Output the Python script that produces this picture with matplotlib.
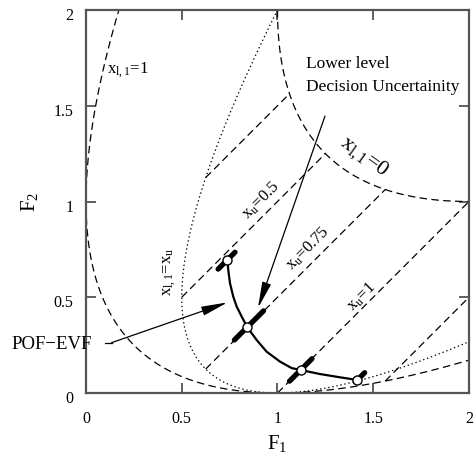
import numpy as np
import matplotlib
matplotlib.use("Agg")
import matplotlib.pyplot as plt
from matplotlib import transforms

plt.rcParams['font.family'] = ['Liberation Serif', 'DejaVu Serif']
plt.rcParams['mathtext.fontset'] = 'custom'
plt.rcParams['mathtext.rm'] = 'Liberation Serif'
plt.rcParams['mathtext.it'] = 'Liberation Serif'
plt.rcParams['mathtext.default'] = 'regular'

# ---------------- data ----------------
# upper level variable values of the constant-x_u lines
XU_LINES = [0.25, 0.5, 0.75, 1.0, 1.25]
# range of x_u for the boundary curves
XU_RANGE_L1 = (-0.42, 1.42)     # x_{l,1}=1 curve
XU_RANGE_L0 = (0.0, 1.0)        # x_{l,1}=0 curve
XU_RANGE_LU = (0.0, 1.40)       # x_{l,1}=x_u curve

# POF-EVF curve
EVF_F1 = [0.738, 0.743, 0.752, 0.769, 0.787, 0.813, 0.842, 0.891, 0.943,
          1.013, 1.074, 1.121, 1.222, 1.326, 1.417]
EVF_F2 = [0.695, 0.642, 0.573, 0.503, 0.451, 0.399, 0.344, 0.277, 0.216,
          0.164, 0.130, 0.120, 0.099, 0.082, 0.068]

# selected EVF points and their decision-uncertainty bars
PTS_F1 = [0.738, 0.842, 1.121, 1.417]
PTS_F2 = [0.695, 0.344, 0.120, 0.068]
BAR_F1_LO = [0.690, 0.775, 1.063, 1.408]
BAR_F1_HI = [0.778, 0.927, 1.180, 1.455]

X_TICKS = [0, 0.5, 1, 1.5, 2]
Y_TICKS = [0, 0.5, 1, 1.5, 2]
X_TICKLABELS = ['0', '0.5', '1', '1.5', '2']
Y_TICKLABELS = ['0', '0.5', '1', '1.5', '2']


def objectives(xu, h):
    return xu ** 2 + h, (1 - xu) ** 2 + h


fig = plt.figure(figsize=(4.77, 4.57), dpi=100)
ax = fig.add_axes([86 / 477, 1 - 393 / 457, (469 - 86) / 477, (393 - 10) / 457])

DASH = (0, (6, 3.5))
DOT = (0, (1.1, 2.2))

# x_{l,1}=1 curve (h=0)
xu = np.linspace(*XU_RANGE_L1, 300)
f1, f2 = objectives(xu, 0.0)
ax.plot(f1, f2, color='black', lw=0.9, linestyle=DASH)

# x_{l,1}=0 curve (h=1)
xu = np.linspace(*XU_RANGE_L0, 300)
f1, f2 = objectives(xu, 1.0)
ax.plot(f1, f2, color='black', lw=0.9, linestyle=DASH)

# x_{l,1}=x_u curve
xu = np.linspace(*XU_RANGE_LU, 300)
f1, f2 = objectives(xu, (1 - xu) ** 2)
ax.plot(f1, f2, color='black', lw=0.9, linestyle=DOT)

# constant x_u lines from x_{l,1}=x_u (or h=0) to x_{l,1}=0
for v in XU_LINES:
    h_start = (1 - v) ** 2 if v <= 1 else 0.0
    a1, a2 = objectives(v, h_start)
    b1, b2 = objectives(v, 1.0)
    ax.plot([a1, b1], [a2, b2], color='black', lw=0.9, linestyle=DASH)

# POF-EVF
ax.plot(EVF_F1, EVF_F2, color='black', lw=1.6, zorder=4)

# uncertainty bars
for p1, p2, lo, hi in zip(PTS_F1, PTS_F2, BAR_F1_LO, BAR_F1_HI):
    d = p2 - p1
    ax.plot([lo, hi], [lo + d, hi + d], color='black', lw=3.8,
            solid_capstyle='round', zorder=5)

ax.plot(PTS_F1, PTS_F2, linestyle='none', marker='o', markersize=6.5,
        markerfacecolor='white', markeredgecolor='black', markeredgewidth=1.0,
        zorder=6)

# arrows
arrow_kw = dict(arrowstyle='-|>,head_length=1.6,head_width=0.28',
                color='black', lw=0.9, shrinkA=0, shrinkB=0)
ax.annotate('', xy=(0.898, 0.444), xytext=(1.248, 1.446),
            arrowprops=arrow_kw, zorder=7)
ax.plot([0.099, 0.134], [0.263, 0.263], color='black', lw=0.9, clip_on=False)
ax.annotate('', xy=(0.739, 0.473), xytext=(0.134, 0.263),
            arrowprops=arrow_kw, annotation_clip=False, zorder=7)

# texts
ax.text(0.217, 1.687, r'$x_{l,1}$=1', fontsize=12, ha='center', va='center')
ax.text(1.15, 1.718, 'Lower level', fontsize=12.5, ha='left', va='center')
ax.text(1.15, 1.598, 'Decision Uncertainity', fontsize=12.5, ha='left', va='center')
ax.text(1.454, 1.232, r'$x_{l,1}$=0', fontsize=16, ha='center', va='center',
        rotation=-36, rotation_mode='anchor')
ax.text(0.914, 1.003, r'$x_u$=0.5', fontsize=12, ha='center', va='center',
        rotation=45, rotation_mode='anchor')
ax.text(1.159, 0.752, r'$x_u$=0.75', fontsize=12, ha='center', va='center',
        rotation=45, rotation_mode='anchor')
ax.text(1.441, 0.501, r'$x_u$=1', fontsize=12, ha='center', va='center',
        rotation=45, rotation_mode='anchor')
ax.text(0.436, 0.632, r'$x_{l,1}$=$x_u$', fontsize=12, ha='center', va='center',
        rotation=90, rotation_mode='anchor')
ax.text(-0.18, 0.255, 'POF\u2212EVF', fontsize=13.5, ha='center', va='center',
        clip_on=False)

# axes styling
ax.set_xlim(0, 2)
ax.set_ylim(0, 2)
ax.set_xticks(X_TICKS)
ax.set_yticks(Y_TICKS)
ax.set_xticklabels(X_TICKLABELS)
ax.set_yticklabels(Y_TICKLABELS)
ax.tick_params(direction='in', length=7.5, width=1.2, color='#444444',
               top=True, right=True, labelsize=11.5)
ax.tick_params(axis='x', pad=13)
ax.tick_params(axis='y', pad=9)
for s in ax.spines.values():
    s.set_linewidth(1.6)
    s.set_color('#555555')

off = transforms.ScaledTranslation(0, -4 / 100, fig.dpi_scale_trans)
for lab in ax.get_yticklabels():
    lab.set_transform(lab.get_transform() + off)

ax.set_xlabel(r'$F_1$', fontsize=15, labelpad=4)
ax.set_ylabel(r'$F_2$', fontsize=15, labelpad=10)

fig.savefig('out.png', dpi=100)
